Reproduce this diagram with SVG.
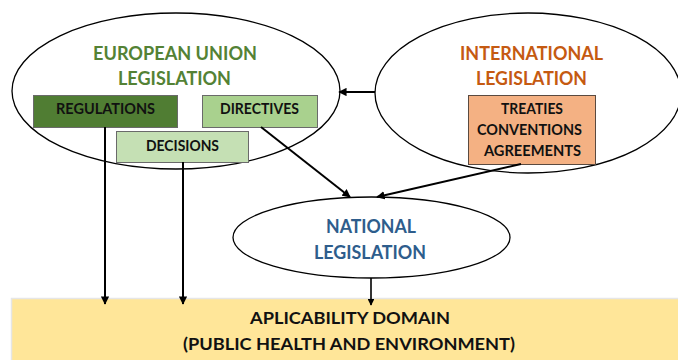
<svg xmlns="http://www.w3.org/2000/svg" width="678" height="360" viewBox="0 0 678 360">
<defs>
<marker id="ah" viewBox="0 0 10 10" refX="9" refY="5" markerWidth="4.2" markerHeight="4.2" markerUnits="strokeWidth" orient="auto">
<path d="M0,0 L10,5 L0,10 z" fill="#000"/>
</marker>
<style>
.ell{fill:#fff;stroke:#000;stroke-width:1.3}
.t{font-family:Lato,"Open Sans","Liberation Sans",sans-serif;font-weight:bold;text-anchor:middle}
.big{font-size:18.5px}
.box{font-size:15px;fill:#111}
.con{stroke:#000;stroke-width:2;fill:none;marker-end:url(#ah)}
.bx{stroke:#6a6a6a;stroke-width:1}
</style>
</defs>
<g id="domain">
<rect x="11.5" y="298.5" width="670" height="65" fill="#FFE699" stroke="#e6e6e6" stroke-width="1.5"/>
<text class="t" x="350" y="324" font-size="17.5" fill="#111" textLength="200" lengthAdjust="spacingAndGlyphs">APLICABILITY DOMAIN</text>
<text class="t" x="349" y="350" font-size="17.5" fill="#111" textLength="332" lengthAdjust="spacingAndGlyphs">(PUBLIC HEALTH AND ENVIRONMENT)</text>
</g>
<g id="eu">
<ellipse class="ell" cx="176" cy="91" rx="164" ry="78"/>
<text class="t big" x="175" y="60" fill="#548235" textLength="164" lengthAdjust="spacingAndGlyphs">EUROPEAN UNION</text>
<text class="t big" x="174.5" y="85" fill="#548235" textLength="113" lengthAdjust="spacingAndGlyphs">LEGISLATION</text>
</g>
<g id="regulations">
<rect class="bx" x="33.5" y="95.5" width="144" height="32" fill="#507D33"/>
<text class="t box" x="105.5" y="114" textLength="99" lengthAdjust="spacingAndGlyphs">REGULATIONS</text>
</g>
<g id="directives">
<rect class="bx" x="202.5" y="95.5" width="115" height="32" fill="#A9D18E"/>
<text class="t box" x="259.5" y="114" textLength="79" lengthAdjust="spacingAndGlyphs">DIRECTIVES</text>
</g>
<g id="decisions">
<rect class="bx" x="116.5" y="131.5" width="132" height="31" fill="#C5E0B4"/>
<text class="t box" x="182.5" y="150.5" textLength="73" lengthAdjust="spacingAndGlyphs">DECISIONS</text>
</g>
<g id="international">
<ellipse class="ell" cx="528" cy="93" rx="153" ry="80"/>
<text class="t big" x="531.5" y="60" fill="#C55A11" textLength="143" lengthAdjust="spacingAndGlyphs">INTERNATIONAL</text>
<text class="t big" x="531.5" y="85" fill="#C55A11" textLength="111" lengthAdjust="spacingAndGlyphs">LEGISLATION</text>
</g>
<g id="treaties">
<rect x="468.5" y="95.5" width="127" height="69" fill="#F4B183" stroke="#5a4a40" stroke-width="1"/>
<text class="t box" x="532" y="114" textLength="62" lengthAdjust="spacingAndGlyphs">TREATIES</text>
<text class="t box" x="529.5" y="134.5" textLength="105" lengthAdjust="spacingAndGlyphs">CONVENTIONS</text>
<text class="t box" x="532.5" y="155.5" textLength="97" lengthAdjust="spacingAndGlyphs">AGREEMENTS</text>
</g>
<g id="national">
<ellipse class="ell" cx="371.5" cy="237.5" rx="138.5" ry="40.5"/>
<text class="t big" x="371" y="233" fill="#2E5D8C" textLength="90" lengthAdjust="spacingAndGlyphs">NATIONAL</text>
<text class="t big" x="370" y="259" fill="#2E5D8C" textLength="112" lengthAdjust="spacingAndGlyphs">LEGISLATION</text>
</g>
<g id="connectors">
<line class="con" x1="105" y1="127" x2="105" y2="304"/>
<line class="con" x1="183" y1="162" x2="183" y2="304"/>
<line class="con" x1="261" y1="127" x2="350" y2="197"/>
<line class="con" x1="521" y1="164" x2="377" y2="197"/>
<line class="con" x1="375" y1="92" x2="339" y2="92"/>
<line class="con" x1="371" y1="278" x2="371" y2="305" style="stroke-width:1.6"/>
</g>
</svg>
